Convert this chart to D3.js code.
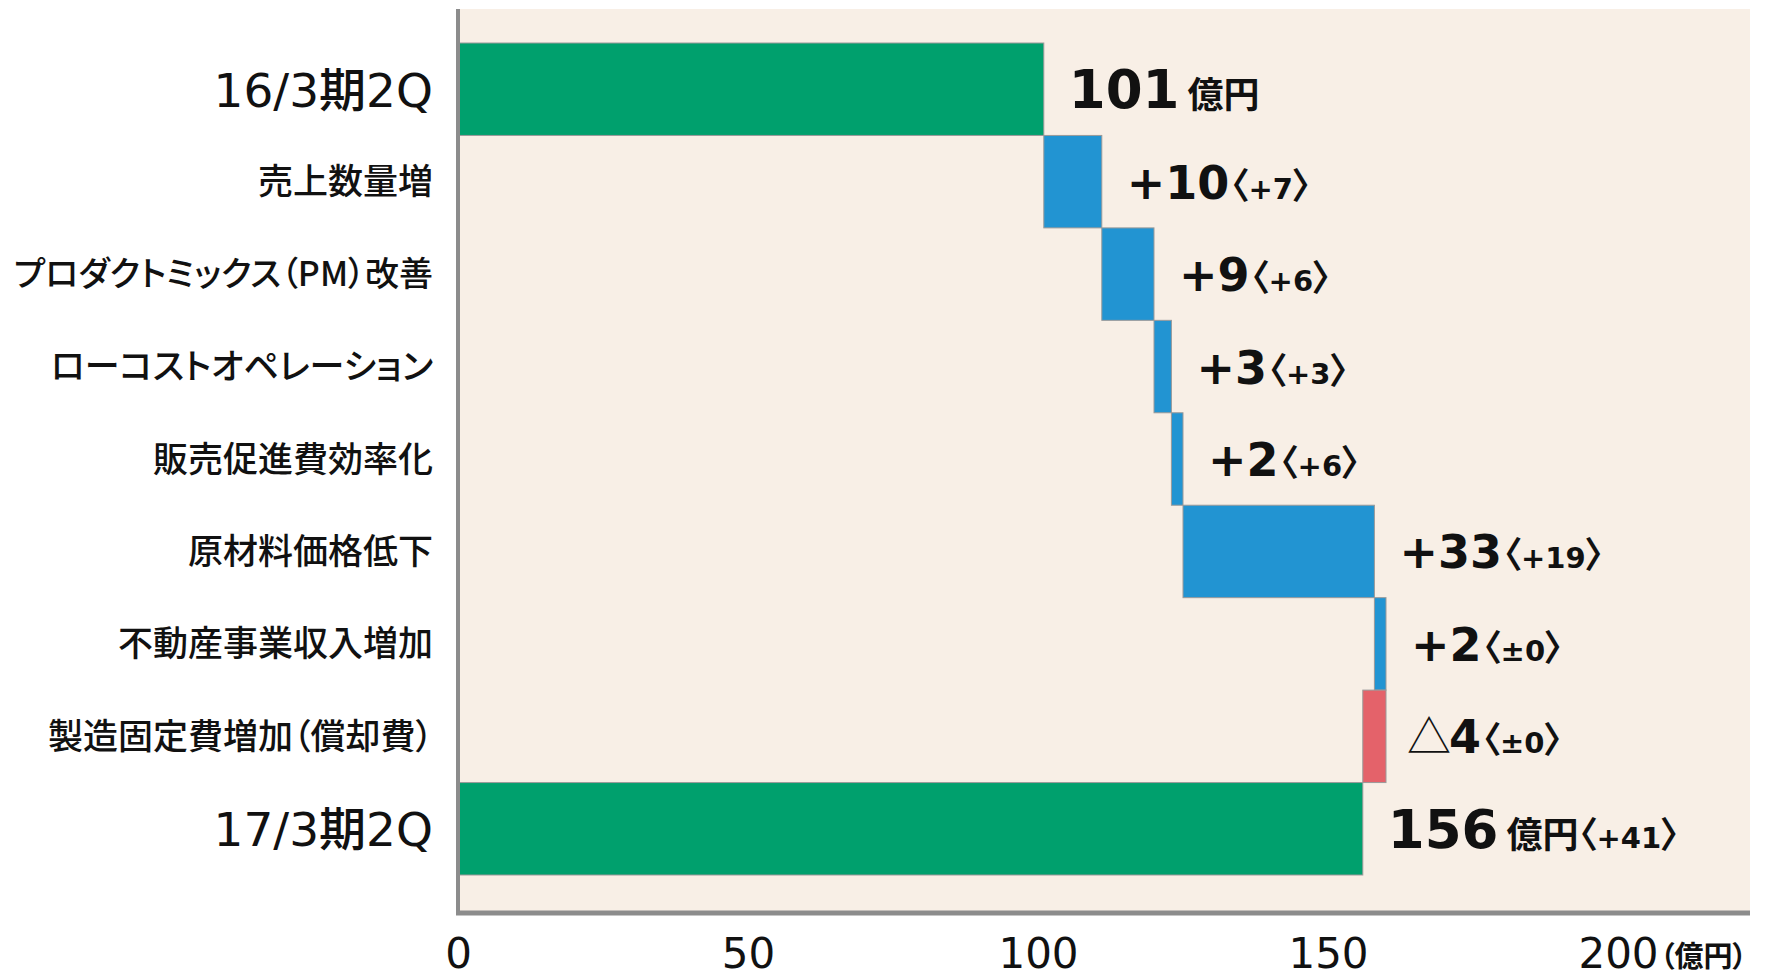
<!DOCTYPE html>
<html lang="ja">
<head>
<meta charset="utf-8">
<script src="https://cdn.jsdelivr.net/npm/d3@7/dist/d3.min.js"></script>
<style>
  body { margin: 0; background: #fff; }
  svg text { font-feature-settings: "palt"; }
</style>
</head>
<body>
<div id="chart"></div>
<script>
// waterfall data (億円)
const categories = [
  "16/3期2Q",
  "売上数量増",
  "プロダクトミックス（PM）改善",
  "ローコストオペレーション",
  "販売促進費効率化",
  "原材料価格低下",
  "不動産事業収入増加",
  "製造固定費増加（償却費）",
  "17/3期2Q"
];
const values = [101, 10, 9, 3, 2, 33, 2, -4, 156];
const kinds = ["total", "up", "up", "up", "up", "up", "up", "down", "total"];
const mainLabels = ["101", "+10", "+9", "+3", "+2", "+33", "+2", "△4", "156"];
const unitLabels = ["億円", "", "", "", "", "", "", "", "億円"];
const prevLabels = ["", "+7", "+6", "+3", "+6", "+19", "±0", "±0", "+41"];
const xTicks = [0, 50, 100, 150, 200];

const width = 1768, height = 977;
const plot = { left: 458, right: 1750, top: 9, bottom: 913 };
const colors = { total: "#00a06d", up: "#2294d2", down: "#e4626a" };
const jp = "'Noto Sans CJK JP', 'Noto Sans', sans-serif";
const num = "'DejaVu Sans', 'Noto Sans CJK JP', sans-serif";

// running totals -> bar start / end
let running = 0;
const bars = categories.map((c, i) => {
  let x0, x1;
  if (kinds[i] === "total") {
    x0 = 0; x1 = values[i]; running = values[i];
  } else {
    x0 = running; x1 = running + values[i]; running = x1;
  }
  return { cat: c, kind: kinds[i], lo: Math.min(x0, x1), hi: Math.max(x0, x1),
           main: mainLabels[i], unit: unitLabels[i], prev: prevLabels[i] };
});

const x = d3.scaleLinear().domain([0, 200]).range([plot.left, 1618]);
const y = d3.scaleBand().domain(categories).range([43, 875]).padding(0);
const mid = d => y(d.cat) + y.bandwidth() / 2;

const svg = d3.select("#chart").append("svg")
  .attr("width", width)
  .attr("height", height);

// panel
svg.append("rect")
  .attr("x", plot.left).attr("y", plot.top)
  .attr("width", plot.right - plot.left).attr("height", plot.bottom - plot.top)
  .attr("fill", "#f8efe6");

// bars
svg.selectAll(".bar")
  .data(bars)
  .enter().append("rect")
  .attr("class", "bar")
  .attr("x", d => x(d.lo))
  .attr("y", d => y(d.cat))
  .attr("width", d => x(d.hi) - x(d.lo))
  .attr("height", y.bandwidth())
  .attr("fill", d => colors[d.kind])
  .attr("stroke", "#9a9a9a")
  .attr("stroke-width", 1);

// frame lines (left + bottom)
svg.append("line")
  .attr("x1", plot.left).attr("x2", plot.left)
  .attr("y1", plot.top).attr("y2", plot.bottom)
  .attr("stroke", "#8c8c8c").attr("stroke-width", 4);
svg.append("line")
  .attr("x1", plot.left - 2).attr("x2", plot.right)
  .attr("y1", plot.bottom).attr("y2", plot.bottom)
  .attr("stroke", "#8c8c8c").attr("stroke-width", 5);

// category labels
svg.selectAll(".cat")
  .data(bars)
  .enter().append("text")
  .attr("class", "cat")
  .attr("x", 433)
  .attr("y", mid)
  .attr("dy", d => d.kind === "total" ? "0.37em" : "0.36em")
  .attr("text-anchor", "end")
  .attr("font-family", d => d.kind === "total" ? num : jp)
  .attr("font-weight", 500)
  .attr("font-size", d => d.kind === "total" ? 47 : 35)
  .attr("fill", "#111")
  .text(d => d.cat)
  .each(function () {
    // keep long labels inside the left margin
    const w = this.getComputedTextLength();
    if (w > 419) {
      const fs = +d3.select(this).attr("font-size");
      d3.select(this).attr("font-size", fs * 419 / w);
    }
  });

// value labels
const vl = svg.selectAll(".val")
  .data(bars)
  .enter().append("text")
  .attr("class", "val")
  .attr("x", d => x(d.hi) + 25)
  .attr("y", d => mid(d) + (d.kind === "total" ? 19 : 17))
  .attr("font-family", num)
  .attr("font-weight", "bold")
  .attr("fill", "#111");

vl.each(function (d) {
  const t = d3.select(this);
  const big = d.kind === "total" ? 53 : 46;
  if (d.main.startsWith("△")) {
    t.append("tspan").attr("font-family", jp).attr("font-weight", "normal")
      .attr("font-size", 44).attr("dx", -4).text("△");
    t.append("tspan").attr("font-size", big).attr("dx", -2).text(d.main.slice(1));
  } else {
    t.append("tspan").attr("font-size", big).text(d.main);
  }
  if (d.unit) {
    t.append("tspan").attr("font-family", jp).attr("font-size", 36)
      .attr("dx", 8).text(d.unit);
  }
  if (d.prev) {
    t.append("tspan").attr("font-family", jp).attr("font-size", 36)
      .attr("dx", d.unit ? 0 : 1).text("〈");
    t.append("tspan").attr("font-size", 29).text(d.prev);
    t.append("tspan").attr("font-family", jp).attr("font-size", 36).text("〉");
  }
});

// x axis
const axis = svg.append("g")
  .attr("transform", `translate(0,${plot.bottom})`)
  .call(d3.axisBottom(x).tickValues(xTicks).tickSize(0).tickPadding(25));
axis.select(".domain").remove();
axis.selectAll("text")
  .attr("font-family", num)
  .attr("font-size", 42)
  .attr("fill", "#111");

svg.append("text")
  .attr("x", x(200) + 42)
  .attr("y", 967)
  .attr("font-family", jp)
  .attr("font-weight", "bold")
  .attr("font-size", 29)
  .attr("fill", "#111")
  .text("（億円）");
</script>
</body>
</html>
